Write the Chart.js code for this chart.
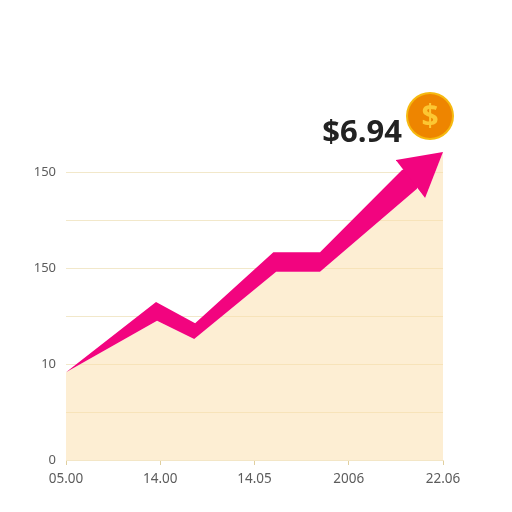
<!DOCTYPE html>
<html>
<head>
<meta charset="utf-8">
<script src="https://cdn.jsdelivr.net/npm/chart.js@4"></script>
<style>
html, body { margin: 0; padding: 0; background: #fff; }
#box { width: 512px; height: 512px; position: relative; }
</style>
</head>
<body>
<div id="box"><canvas id="chart"></canvas></div>
<script>
// 축 라벨 (그림에 적힌 그대로)
const xLabels = ['05.00', '14.00', '14.05', '2006', '22.06'];
const yLabels = ['0', '', '10', '', '150', '', '150', ''];
const priceText = '$6.94';
const coinText = '$';

// 리본 윗변 / 아랫변
const ribbonTop = [[0, 1.83], [0.955, 3.29], [1.37, 2.85], [2.2, 4.33], [2.695, 4.33], [3.565, 6.04], [3.724, 6.15]];
const ribbonBottom = [[0, 1.83], [0.966, 2.9], [1.36, 2.52], [2.23, 3.92], [2.695, 3.92], [3.724, 5.65]];
// 화살촉
const headTop = [[3.5, 6.25], [4, 6.417]];
const headBottom = [[3.5, 6.25], [3.81, 5.46], [4, 6.417]];
// 아래 영역
const areaTop = [[0, 1.83], [0.966, 2.9], [1.36, 2.52], [2.23, 3.92], [2.695, 3.92], [3.724, 5.65], [3.81, 5.46], [4, 6.417]];

const toPoints = list => list.map(p => ({ x: p[0], y: p[1] }));

function lineSet(list, fill, bg) {
    return {
        data: toPoints(list),
        fill: fill,
        backgroundColor: bg,
        borderWidth: 0,
        pointRadius: 0,
        tension: 0
    };
}

// 가격 텍스트와 동전
const priceLabel = {
    id: 'priceLabel',
    afterDraw(chart) {
        const ctx = chart.ctx;
        ctx.save();
        ctx.fillStyle = '#222222';
        ctx.font = 'bold 31px "Open Sans"';
        ctx.textAlign = 'right';
        ctx.textBaseline = 'alphabetic';
        ctx.fillText(priceText, 402, 142);

        ctx.beginPath();
        ctx.arc(430, 116, 24, 0, Math.PI * 2);
        ctx.fillStyle = '#f6b90f';
        ctx.fill();
        ctx.beginPath();
        ctx.arc(430, 116, 22, 0, Math.PI * 2);
        ctx.fillStyle = '#ee8500';
        ctx.fill();
        ctx.fillStyle = '#fcc733';
        ctx.font = 'bold 30px "Open Sans"';
        ctx.textAlign = 'center';
        ctx.textBaseline = 'middle';
        ctx.fillText(coinText, 430, 117);
        ctx.restore();
    }
};

new Chart(document.getElementById('chart'), {
    type: 'line',
    data: {
        datasets: [
            lineSet(headTop, '+1', '#f2047f'),
            lineSet(headBottom, false, 'transparent'),
            lineSet(ribbonTop, '+1', '#f2047f'),
            lineSet(ribbonBottom, false, 'transparent'),
            lineSet(areaTop, 'origin', 'rgba(252, 222, 168, 0.5)')
        ]
    },
    options: {
        responsive: true,
        maintainAspectRatio: false,
        animation: false,
        layout: { padding: { top: 124, right: 69, left: 0, bottom: 0 } },
        plugins: {
            legend: { display: false },
            tooltip: { enabled: false }
        },
        scales: {
            x: {
                type: 'linear',
                min: 0,
                max: 4,
                afterFit: s => { s.height = 52; },
                border: { color: '#f3e6c6', width: 1 },
                grid: { drawOnChartArea: false, drawTicks: true, tickLength: 5, tickColor: '#e0cf9f' },
                ticks: {
                    stepSize: 1,
                    maxRotation: 0,
                    padding: 6,
                    color: '#5c5c5c',
                    font: { family: '"Noto Sans"', size: 13.5 },
                    callback: v => xLabels[v]
                }
            },
            y: {
                min: 0,
                max: 7,
                afterFit: s => { s.width = 66; },
                border: { display: false },
                grid: {
                    tickLength: 0,
                    color: c => c.tick.value > 6 ? 'transparent' : '#f2e8ca'
                },
                ticks: {
                    stepSize: 1,
                    padding: 10,
                    color: '#5c5c5c',
                    font: { family: '"Noto Sans"', size: 13 },
                    callback: v => yLabels[v]
                }
            }
        }
    },
    plugins: [priceLabel]
});
</script>
</body>
</html>
